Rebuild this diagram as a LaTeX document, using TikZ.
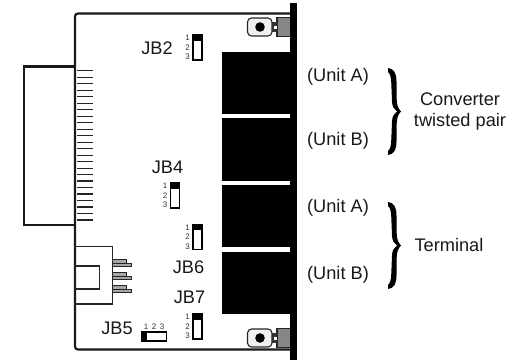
\documentclass[tikz,border=0pt]{standalone}
\usepackage{fontspec}
\setmainfont{Liberation Sans}
\tikzset{
  lbl/.style={inner sep=0pt,font=\fontsize{18.2}{20}\selectfont,text=black!90},
  pin/.style={inner sep=0pt,font=\fontsize{8}{9}\selectfont,text=black!80},
  jumper/.style={draw=black,line width=1.2pt,fill=white},
  bk/.style={fill=black,draw=none},
  fing/.style={line width=1.1pt,draw=black!85},
  board/.style={line width=2.2pt,draw=black!90},
  thin/.style={line width=1.1pt,draw=black!85},
}
\newcommand{\vjump}[2]{%
  \draw[jumper] (#1,#2) rectangle ++(9,25);
  \fill[black] (#1,#2) rectangle ++(9,5.5);
  \node[pin] at (#1-5.5,#2+3) {1};
  \node[pin] at (#1-5.5,#2+12.5) {2};
  \node[pin] at (#1-5.5,#2+22) {3};
}
\newcommand{\mountpart}[1]{%
  \fill[gray!95] (277,#1-9.5) rectangle (290,#1+9.5);
  \draw[line width=1.1pt,black!85] (290,#1-9.5) -- (277,#1-9.5) -- (277,#1+9.5) -- (290,#1+9.5);
  \fill[black!80] (272,#1-5) rectangle (277,#1+5);
  \fill[white] (274,#1-1.5) rectangle (277,#1+1.5);
  \draw[line width=1.1pt,black!85,fill=black!6,rounded corners=4pt] (247.5,#1-9) rectangle (272,#1+9);
  \fill[black] (260,#1) circle (4.8);
}
\newcommand{\bracepath}[1]{%
  \fill[black] (388,#1-43.5) .. controls (394,#1-43) and (396.5,#1-38) .. (396.5,#1-30)
   -- (396.7,#1-12) .. controls (397,#1-6) and (398,#1-3) .. (401,#1)
   .. controls (398,#1+3) and (397,#1+6) .. (396.7,#1+12)
   -- (396.5,#1+30) .. controls (396.5,#1+38) and (394,#1+43) .. (388,#1+43.5)
   -- (388,#1+39.5) .. controls (390,#1+38) and (391.3,#1+34) .. (391.3,#1+28)
   -- (392,#1+10) .. controls (392.2,#1+5) and (394,#1+2) .. (397,#1)
   .. controls (394,#1-2) and (392.2,#1-5) .. (392,#1-10)
   -- (391.3,#1-28) .. controls (391.3,#1-34) and (390,#1-38) .. (388,#1-39.5) -- cycle;
}
\begin{document}
\begin{tikzpicture}[x=1pt,y=-1pt]
\useasboundingbox (0,0) rectangle (514,360);
\fill[white] (0,0) rectangle (514,360);
% card outline
\draw[board,rounded corners=3pt] (290,13.5) -- (75,13.5) -- (75,349.5) -- (290,349.5);
\draw[board] (75,66.5) -- (24,66.5) -- (24,225) -- (75,225);
% edge fingers
\foreach \i in {0,...,23} \draw[fing] (77,70.7+6.49*\i) -- (93,70.7+6.49*\i);
% ports
\fill[black] (222,52) rectangle (290,114);
\fill[black] (222,118) rectangle (290,181);
\fill[black] (222,185) rectangle (290,247);
\fill[black] (222,252) rectangle (290,313.5);
% front panel
\fill[black] (290,3) rectangle (297,360);
% mounts
\mountpart{27}
\mountpart{338}
% header
\draw[line width=1.2pt,black!85] (75,246.7) -- (112.3,246.7) -- (112.3,304) -- (75,304);
\draw[line width=1.5pt,black!85] (75.5,266) rectangle (99.5,289);
\foreach \y in {259.5,272.5,285.5}{
  \draw[line width=0.9pt,black!85,fill=black!35] (112.5,\y) rectangle (126.5,\y+3.5);
  \draw[line width=0.9pt,black!85,fill=black!35] (112.5,\y+3.5) rectangle (131.5,\y+7);
}
% jumpers
\vjump{193}{35}
\vjump{170.5}{183}
\vjump{193}{224.5}
\vjump{193}{314}
\draw[jumper] (141.5,332) rectangle (166.5,341);
\fill[black] (141.5,332) rectangle (147,341);
\node[pin] (p1) at (146,326.5) {1};
\node[pin] (p2) at (154,326.5) {2};
\node[pin] (p3) at (162,326.5) {3};
% labels
\node[lbl] (jb2) at (157,48) {JB2};
\node[lbl] (jb4) at (167.5,167) {JB4};
\node[lbl] (jb6) at (188.5,267.5) {JB6};
\node[lbl] (jb7) at (189.5,297.5) {JB7};
\node[lbl] (jb5) at (117,328) {JB5};
\node[lbl] (ua1) at (338,77) {(Unit A)};
\node[lbl] (ub1) at (338,141) {(Unit B)};
\node[lbl] (ua2) at (338,208) {(Unit A)};
\node[lbl] (ub2) at (338,275) {(Unit B)};
\node[lbl] (conv) at (460,99) {Converter};
\node[lbl] (tw) at (460,122) {twisted pair};
\node[lbl] (term) at (449,245) {Terminal};
% braces
\bracepath{111.5}
\bracepath{245.5}
\end{tikzpicture}
\end{document}
